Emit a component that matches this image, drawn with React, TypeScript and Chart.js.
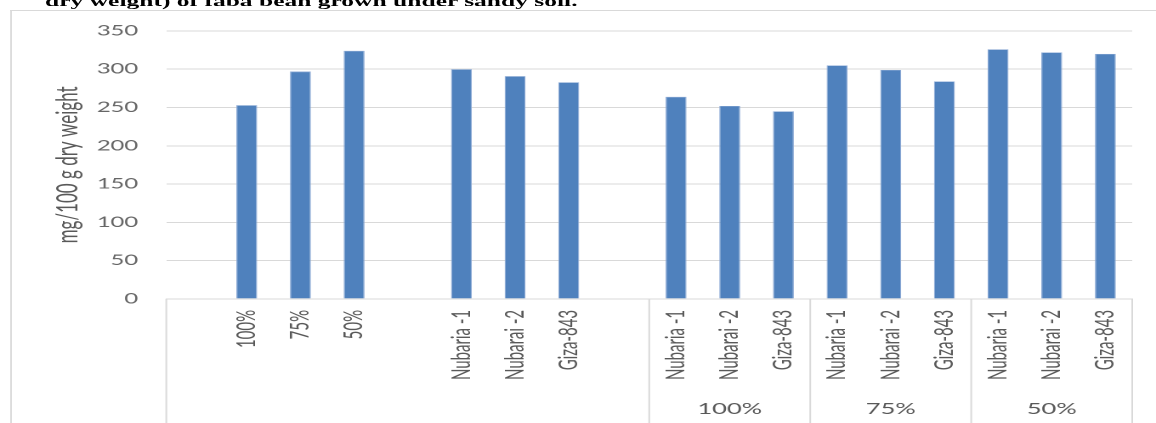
import { useEffect, useRef } from 'react';
import { Chart, registerables } from 'chart.js';

Chart.register(...registerables);

const TITLE = 'dry weight) of faba bean grown under sandy soil.';
const Y_TITLE = 'mg/100 g dry weight';
const CATEGORIES = [
  '', '100%', '75%', '50%',
  '', 'Nubaria -1', 'Nubarai -2', 'Giza-843',
  '', 'Nubaria -1', 'Nubarai -2', 'Giza-843',
  'Nubaria -1', 'Nubarai -2', 'Giza-843',
  'Nubaria -1', 'Nubarai -2', 'Giza-843',
];
const VALUES = [
  null, 253, 297, 324,
  null, 300, 291, 283,
  null, 264, 252, 245,
  305, 299, 284,
  326, 322, 320,
];
const GROUP_LABELS = ['', '100%', '75%', '50%'];
const GROUP_BOUNDS = [0, 9, 12, 15, 18];
const Y_MIN = 0;
const Y_MAX = 350;
const Y_STEP = 50;

const S = 1.7; // horizontal stretch of the reference picture
const GRID = '#d9d9d9';
const TEXT = '#595959';
const FONT = 'Lato, "Open Sans", sans-serif';

const CANVAS_TOP = 6.1;
const CANVAS_H = 427.4;
const PLOT_BOTTOM = 299 - CANVAS_TOP;
const GROUP_LABEL_Y = 409.5 - CANVAS_TOP;

const groupAxis = {
  id: 'groupAxis',
  afterDraw(chart: any) {
    const { ctx, chartArea, scales } = chart;
    const x = scales.x;
    const step = x.getPixelForValue(1) - x.getPixelForValue(0);
    const edge = (i: number) => x.getPixelForValue(0) - step / 2 + i * step;
    ctx.save();
    ctx.strokeStyle = GRID;
    ctx.lineWidth = 1;
    GROUP_BOUNDS.forEach((b) => {
      const px = edge(b);
      ctx.beginPath();
      ctx.moveTo(px, chartArea.bottom);
      ctx.lineTo(px, chart.height);
      ctx.stroke();
    });
    ctx.fillStyle = TEXT;
    ctx.font = `15px ${FONT}`;
    ctx.textAlign = 'center';
    ctx.textBaseline = 'middle';
    for (let g = 0; g < GROUP_BOUNDS.length - 1; g++) {
      const label = GROUP_LABELS[g];
      if (!label) continue;
      const cx = (edge(GROUP_BOUNDS[g]) + edge(GROUP_BOUNDS[g + 1])) / 2;
      ctx.fillText(label, cx, GROUP_LABEL_Y);
    }
    ctx.restore();
  },
};

export default function App() {
  const canvasRef = useRef<HTMLCanvasElement | null>(null);

  useEffect(() => {
    const canvas = canvasRef.current;
    if (!canvas) return;
    const chart = new Chart(canvas, {
      type: 'bar',
      data: {
        labels: CATEGORIES,
        datasets: [
          {
            data: VALUES as any,
            backgroundColor: '#4f81bd',
            borderColor: '#8eabd6',
            borderWidth: 0.6,
            barPercentage: 0.39,
            categoryPercentage: 1,
          },
        ],
      },
      options: {
        animation: false,
        responsive: true,
        maintainAspectRatio: false,
        devicePixelRatio: 2,
        layout: { padding: { left: 0, right: 31, top: 0, bottom: 0 } },
        plugins: {
          legend: { display: false },
          tooltip: { enabled: false },
        },
        scales: {
          x: {
            grid: { display: false, drawTicks: false },
            border: { display: true, color: GRID, width: 1 },
            ticks: {
              autoSkip: false,
              minRotation: 90,
              maxRotation: 90,
              padding: 11,
              color: TEXT,
              font: { family: FONT, size: 15 },
            },
            afterFit(scale: any) {
              scale.height = CANVAS_H - PLOT_BOTTOM;
            },
          },
          y: {
            min: Y_MIN,
            max: Y_MAX,
            grid: { color: GRID, drawTicks: false, lineWidth: 1 },
            border: { display: false },
            ticks: {
              stepSize: Y_STEP,
              padding: 16.5,
              color: '#666666',
              font: { family: FONT, size: 14 },
            },
            title: {
              display: true,
              text: Y_TITLE,
              color: TEXT,
              font: { family: FONT, size: 17 },
              padding: { top: 23, bottom: 0 },
            },
            afterFit(scale: any) {
              scale.width = 90.8;
            },
          },
        },
      },
      plugins: [groupAxis],
    });
    return () => chart.destroy();
  }, []);

  const innerW = 1156 / S;

  return (
    <div
      style={{
        position: 'fixed',
        left: 0,
        top: 0,
        width: 1156,
        height: 423,
        overflow: 'hidden',
        background: '#ffffff',
      }}
    >
      <div
        style={{
          position: 'absolute',
          left: 0,
          top: 0,
          width: innerW,
          height: 423,
          transform: `scaleX(${S})`,
          transformOrigin: '0 0',
        }}
      >
        <div
          style={{
            position: 'absolute',
            left: 26.5,
            top: -6.1,
            fontFamily: '"Liberation Serif", "Times New Roman", serif',
            fontWeight: 'bold',
            fontSize: 15,
            lineHeight: '15px',
            whiteSpace: 'nowrap',
            color: '#000',
          }}
        >
          {TITLE}
        </div>
        <div
          style={{
            position: 'absolute',
            left: 10 / S,
            top: 10,
            width: 720,
            height: 440,
            borderLeft: `1px solid ${GRID}`,
            borderTop: `1.5px solid ${GRID}`,
          }}
        />
        <div
          style={{
            position: 'absolute',
            left: 10 / S + 1,
            top: CANVAS_TOP,
            width: 690,
            height: CANVAS_H,
          }}
        >
          <canvas ref={canvasRef} />
        </div>
      </div>
    </div>
  );
}
